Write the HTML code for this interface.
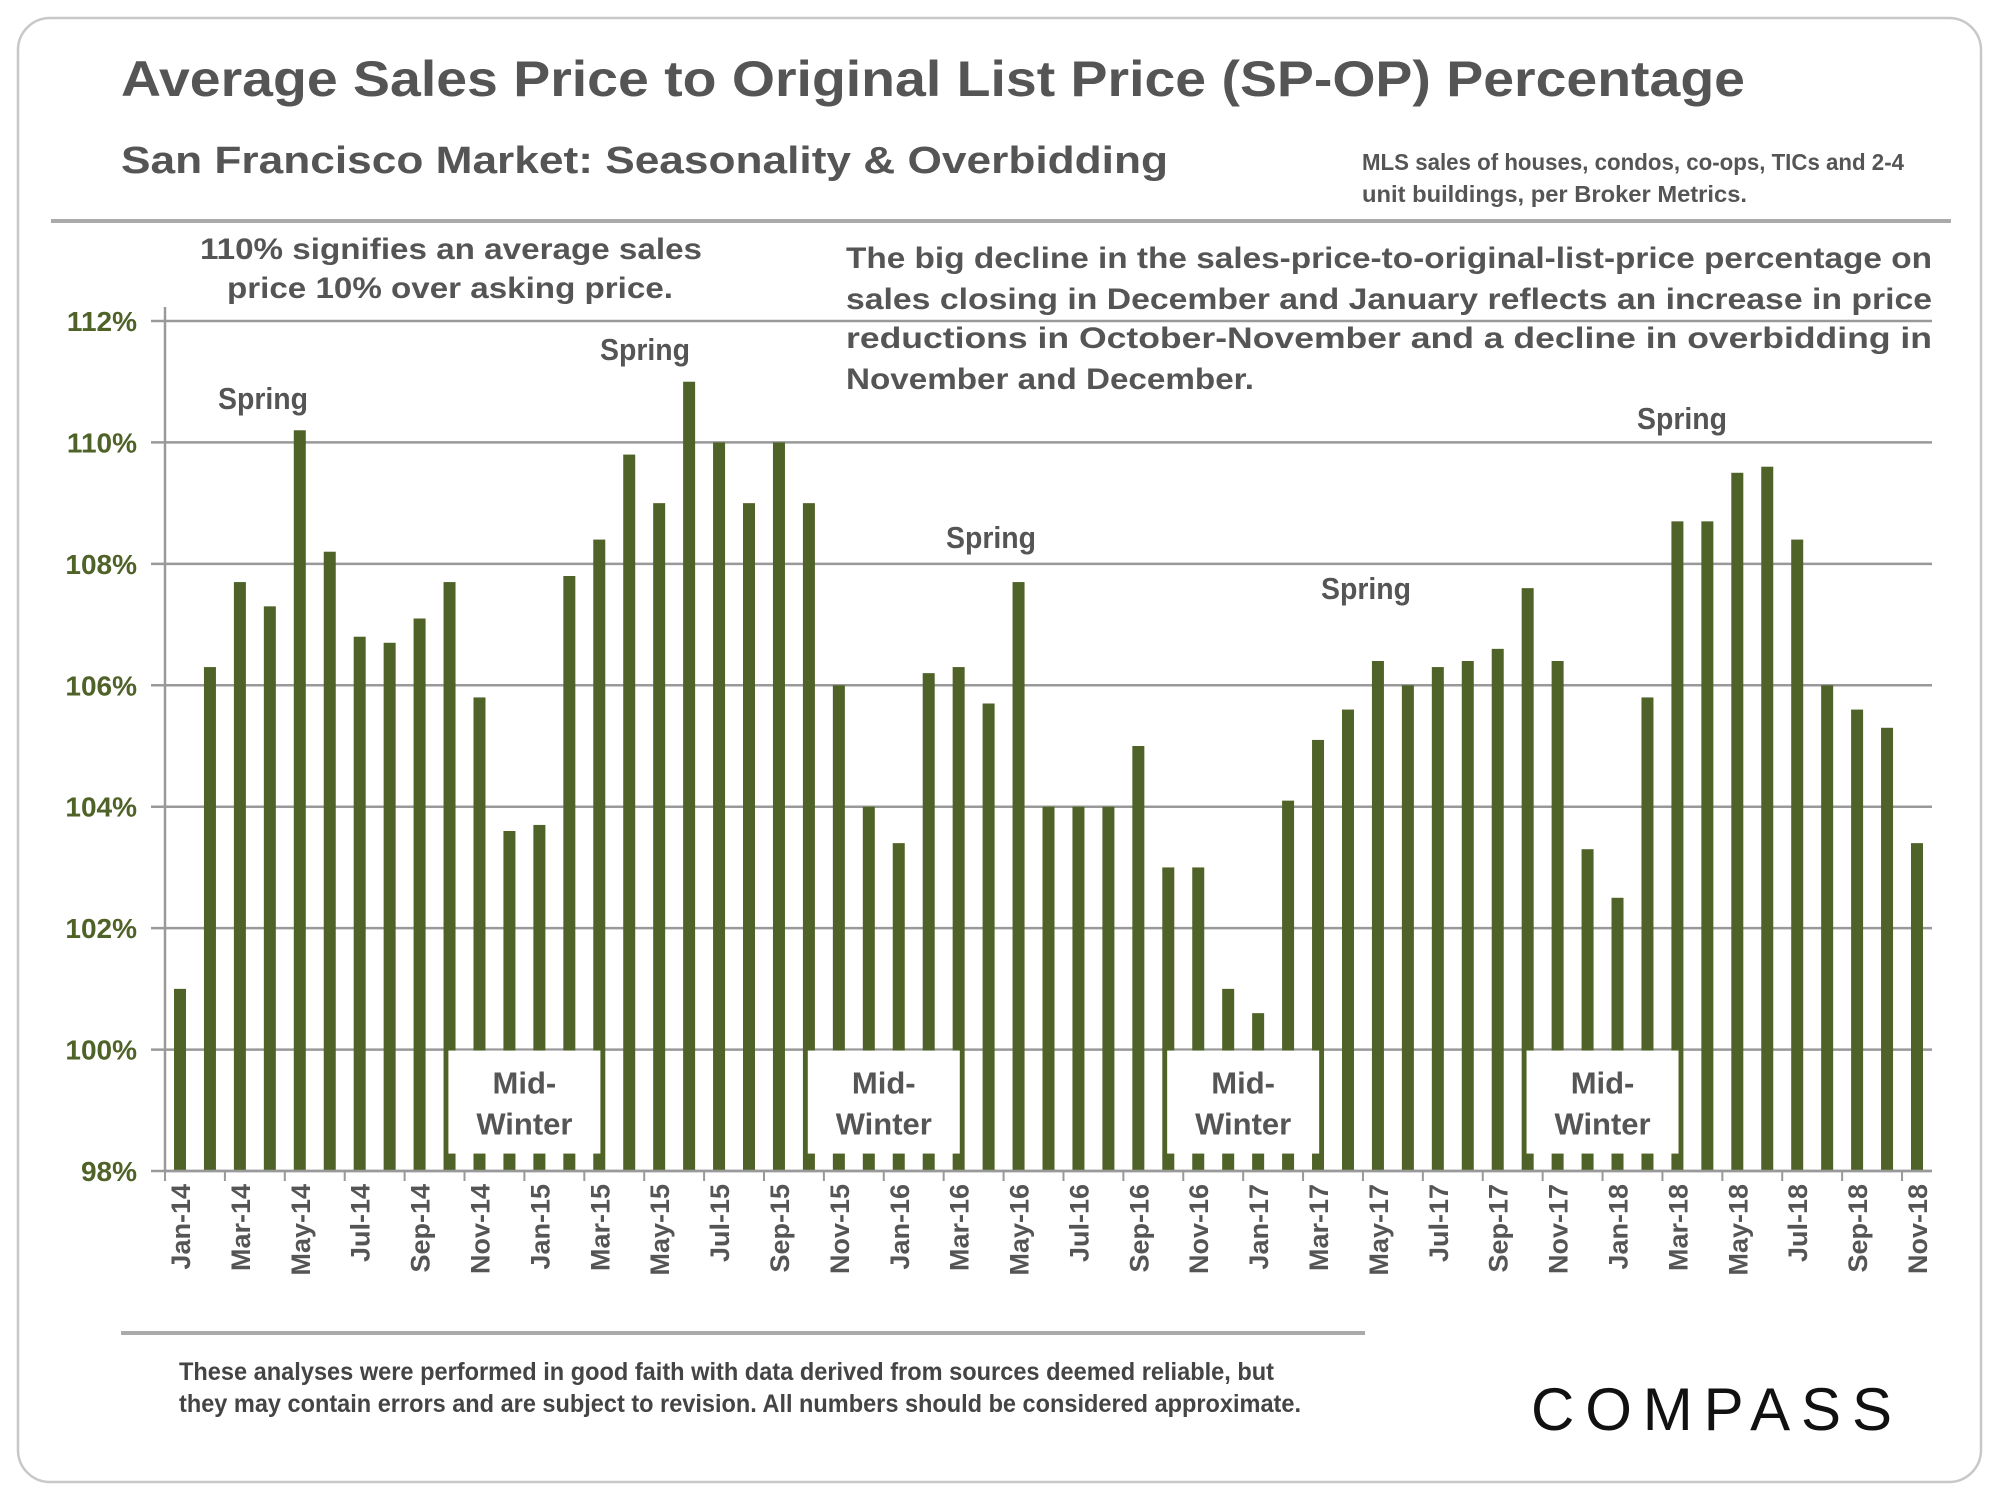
<!DOCTYPE html>
<html><head><meta charset="utf-8"><style>
html,body{margin:0;padding:0;background:#fff;}
svg{display:block;font-family:"Liberation Sans",sans-serif;}
</style></head><body>
<svg id="chart" width="2000" height="1500" viewBox="0 0 2000 1500">
<rect x="18" y="18" width="1963" height="1464" rx="32" fill="#fff" stroke="#c8c8c8" stroke-width="2.5"/>
<text x="121" y="96" font-size="50" font-weight="bold" fill="#555" textLength="1624" lengthAdjust="spacingAndGlyphs">Average Sales Price to Original List Price (SP-OP) Percentage</text>
<text x="121" y="173" font-size="38" font-weight="bold" fill="#555" textLength="1047" lengthAdjust="spacingAndGlyphs">San Francisco Market: Seasonality &amp; Overbidding</text>
<g font-size="23" font-weight="bold" fill="#555">
<text x="1362" y="170" textLength="542" lengthAdjust="spacingAndGlyphs">MLS sales of houses, condos, co-ops, TICs and 2-4</text>
<text x="1362" y="202" textLength="385" lengthAdjust="spacingAndGlyphs">unit buildings, per Broker Metrics.</text>
</g>
<line x1="51" y1="221" x2="1951" y2="221" stroke="#aaa" stroke-width="4"/>
<g font-size="30" font-weight="bold" fill="#555">
<text x="200" y="259" textLength="502" lengthAdjust="spacingAndGlyphs">110% signifies an average sales</text>
<text x="227" y="298" textLength="446" lengthAdjust="spacingAndGlyphs">price 10% over asking price.</text>
</g>
<g font-size="30" font-weight="bold" fill="#555">
<text x="846" y="268" textLength="1086" lengthAdjust="spacingAndGlyphs">The big decline in the sales-price-to-original-list-price percentage on</text>
<text x="846" y="309" textLength="1086" lengthAdjust="spacingAndGlyphs">sales closing in December and January reflects an increase in price</text>
<text x="846" y="348" textLength="1086" lengthAdjust="spacingAndGlyphs">reductions  in  October-November  and  a  decline  in  overbidding  in</text>
<text x="846" y="389" textLength="408" lengthAdjust="spacingAndGlyphs">November and December.</text>
</g>
<g id="grid"></g>
<g id="bars"></g>
<g id="boxes"></g>
<g id="axes"></g>
<g font-size="31" font-weight="bold" fill="#555" text-anchor="middle">
<text x="263" y="409" textLength="90" lengthAdjust="spacingAndGlyphs">Spring</text>
<text x="645" y="360" textLength="90" lengthAdjust="spacingAndGlyphs">Spring</text>
<text x="991" y="548" textLength="90" lengthAdjust="spacingAndGlyphs">Spring</text>
<text x="1366" y="599" textLength="90" lengthAdjust="spacingAndGlyphs">Spring</text>
<text x="1682" y="429" textLength="90" lengthAdjust="spacingAndGlyphs">Spring</text>
</g>
<line x1="121" y1="1333" x2="1365" y2="1333" stroke="#aaa" stroke-width="4"/>
<g font-size="25" font-weight="bold" fill="#444">
<text x="179" y="1380" textLength="1095" lengthAdjust="spacingAndGlyphs">These analyses were performed in good faith with data derived from sources deemed reliable, but</text>
<text x="179" y="1412" textLength="1122" lengthAdjust="spacingAndGlyphs">they may contain errors and are subject to revision. All numbers should be considered  approximate.</text>
</g>
<text x="1531" y="1430" font-size="60" fill="#111" textLength="361" lengthAdjust="spacing">COMPASS</text>
</svg>
<script>
const months = ["Jan-14","Feb-14","Mar-14","Apr-14","May-14","Jun-14","Jul-14","Aug-14","Sep-14","Oct-14","Nov-14","Dec-14",
"Jan-15","Feb-15","Mar-15","Apr-15","May-15","Jun-15","Jul-15","Aug-15","Sep-15","Oct-15","Nov-15","Dec-15",
"Jan-16","Feb-16","Mar-16","Apr-16","May-16","Jun-16","Jul-16","Aug-16","Sep-16","Oct-16","Nov-16","Dec-16",
"Jan-17","Feb-17","Mar-17","Apr-17","May-17","Jun-17","Jul-17","Aug-17","Sep-17","Oct-17","Nov-17","Dec-17",
"Jan-18","Feb-18","Mar-18","Apr-18","May-18","Jun-18","Jul-18","Aug-18","Sep-18","Oct-18","Nov-18"];
const spop = [101.0,106.3,107.7,107.3,110.2,108.2,106.8,106.7,107.1,107.7,105.8,103.6,
103.7,107.8,108.4,109.8,109.0,111.0,110.0,109.0,110.0,109.0,106.0,104.0,
103.4,106.2,106.3,105.7,107.7,104.0,104.0,104.0,105.0,103.0,103.0,101.0,
100.6,104.1,105.1,105.6,106.4,106.0,106.3,106.4,106.6,107.6,106.4,103.3,
102.5,105.8,108.7,108.7,109.5,109.6,108.4,106.0,105.6,105.3,103.4];
const yTicks = [98,100,102,104,106,108,110,112];
const winterStart = ["Nov-14","Nov-15","Nov-16","Nov-17"];

const NS="http://www.w3.org/2000/svg";
const X0=165, X1=1932, Y98=1171, Y112=321, FIRST=180, STEP=(1917-180)/58, BW=12;
const y = v => Y98 - (v-98)*(Y98-Y112)/14;
const x = i => FIRST + i*STEP;
function mk(tag, attrs, parent){const e=document.createElementNS(NS,tag);for(const k in attrs)e.setAttribute(k,attrs[k]);parent.appendChild(e);return e;}
const grid=document.getElementById('grid'), bars=document.getElementById('bars'), boxes=document.getElementById('boxes'), axes=document.getElementById('axes');
yTicks.forEach(t=>{
  const l=mk('line',{x1:X0-14,x2:X1,y1:y(t),y2:y(t),stroke:'#999','stroke-width':2.5},grid);
  
  
  const tx=mk('text',{x:137,y:y(t)+10,'font-size':28,'font-weight':'bold',fill:'#4f6228','text-anchor':'end'},axes);
  tx.textContent=t+'%';
  
  
});
spop.forEach((v,i)=>{
  const r=mk('rect',{x:x(i)-BW/2,y:y(v),width:BW,height:Y98-y(v),fill:'#4f6228'},bars);
  
  
});
winterStart.forEach(m=>{
  const i=months.indexOf(m);
  const g=mk('g',{},boxes);
  
  
  const cx=x(i)+1.5*STEP;
  mk('rect',{x:cx-76,y:y(100)+1,width:152,height:103,fill:'#fff'},g);
  const t1=mk('text',{x:cx,y:y(100)+44,'font-size':31,'font-weight':'bold',fill:'#555','text-anchor':'middle'},g);
  t1.textContent='Mid-';
  const t2=mk('text',{x:cx,y:y(100)+85,'font-size':31,'font-weight':'bold',fill:'#555','text-anchor':'middle'},g);
  t2.textContent='Winter';
});
const ya=mk('line',{x1:X0,x2:X0,y1:Y112-14,y2:Y98,stroke:'#999','stroke-width':2.5},axes);


const xa=mk('line',{x1:X0,x2:X1,y1:Y98,y2:Y98,stroke:'#999','stroke-width':2.5},axes);


months.forEach((m,i)=>{
  if(i%2===0){
    const tk=mk('line',{x1:x(i)-STEP/2,x2:x(i)-STEP/2,y1:Y98,y2:Y98+10,stroke:'#999','stroke-width':2},axes);
    
    
    const tx=mk('text',{x:0,y:0,'font-size':27,'font-weight':'bold',fill:'#555','text-anchor':'end',transform:`translate(${x(i)+10},${Y98+13}) rotate(-90)`},axes);
    tx.textContent=m;
    
    
  }
});
</script>
</body></html>
